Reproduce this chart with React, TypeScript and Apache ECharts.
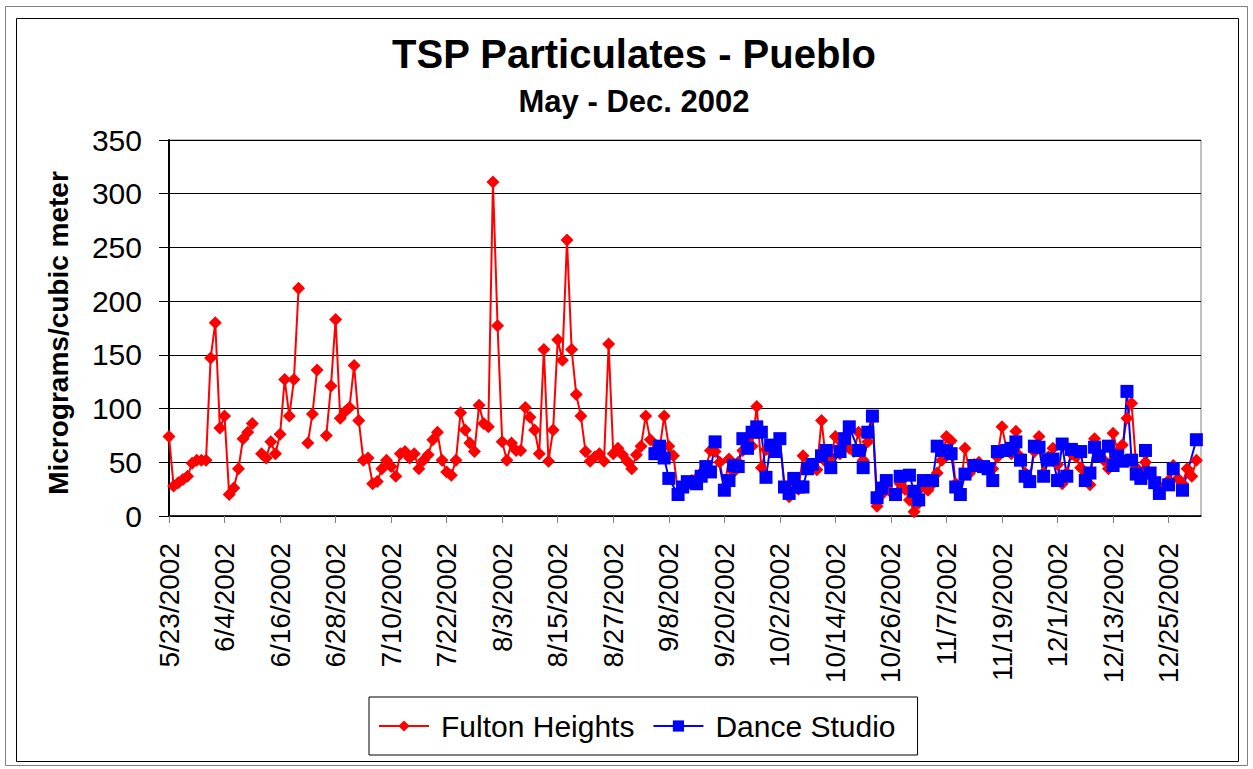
import React, { useEffect, useRef } from 'react';
import * as echarts from 'echarts';

const FONT = '"Liberation Sans", Arial, sans-serif';
const NARROW = '"Liberation Sans Narrow", "Arial Narrow", "Liberation Sans", Arial, sans-serif';

const chartTitle = 'TSP Particulates - Pueblo';
const chartSubtitle = 'May - Dec. 2002';
const yAxisTitle = 'Micrograms/cubic meter';
const seriesNames = ['Fulton Heights', 'Dance Studio'];

// daily categories 5/23/2002 .. 1/1/2003
const firstDay = { year: 2002, month: 5, day: 23 };
const dayCount = 224;
const categories: string[] = [];
for (let i = 0; i < dayCount; i++) {
  const d = new Date(firstDay.year, firstDay.month - 1, firstDay.day + i);
  categories.push(`${d.getMonth() + 1}/${d.getDate()}/${d.getFullYear()}`);
}

const yTicks = { min: 0, max: 350, interval: 50 };

// Fulton Heights, one value per day from 5/23 (null = no sample)
const fultonMay = [74, 28, 31, 34, 37, 49, 52, 52, 52];
const fultonJun = [147, 180, 82, 93, 20, 26, 44, 72, 78, 86, null, 58, 54, 69, 58, 76, 127, 93, 127, 212, null, 68, 95, 136, null, 75, 121, 183, 91, 97];
const fultonJul = [101, 140, 89, 52, 54, 30, 32, 44, 52, 46, 37, 58, 60, 54, 58, 44, 52, 57, 71, 78, 52, 41, 38, 52, 96, 80, 68, 60, 103, 86, 83];
const fultonAug = [311, 177, 69, 52, 68, 61, 61, 101, 92, 80, 58, 155, 51, 80, 164, 145, 257, 155, 113, 93, 60, 51, 55, 58, 51, 160, 58, 63, 57, 51, 44];
const fultonSep = [57, 65, 93, 71, 60, 62, 93, 65, 56, 22, 28, 30, 33, 35, 40, 45, 61, 60, 50, 27, 53, 41, 50, 61, 72, 65, 102, 45, 62, 60];
const fultonOct = [62, 70, 28, 18, 30, 25, 56, 45, 48, 43, 89, 50, 55, 74, 58, 70, 63, 60, 78, 52, 69, 92, 9, 20, 28, 22, 20, 30, 25, 15, 4];
const fultonNov = [12, 28, 24, 30, 40, 52, 74, 70, 30, 22, 63, 40, 48, 50, 45, 46, 44, 55, 83, 62, 58, 79, 55, 40, 35, 60, 74, 40, 55, 63];
const fultonDec = [48, 30, 40, 58, 55, 45, 38, 29, 72, 58, 52, 44, 77, 60, 66, 91, 105, 45, 40, 50, 38, 32, 25, 28, 33, 47, 35, 30, 44, 37, 52];

// Dance Studio, one value per day (null = no sample); starts in September
const danceMayToAug: (number | null)[] = new Array(101).fill(null);
const danceSep = [null, null, null, null, 58, 65, 54, 35, null, 20, 27, 32, 31, 30, 37, 46, 41, 69, null, 24, 33, 47, 46, 72, 63, 78, 83, 78, 36, 66];
const danceOct = [60, 72, 27, 21, 35, 27, 27, 44, 48, null, 56, 61, 45, null, 60, 72, 83, null, 61, 45, 78, 93, 17, 26, 33, null, 20, 37, null, 38, 23];
const danceNov = [15, 33, null, 33, 65, 61, 61, 58, 27, 20, 39, null, 47, null, 46, 44, 33, 60, null, 61, 63, 69, 52, 37, 32, 65, 64, 37, 52, 53];
const danceDec = [33, 67, 37, 62, null, 60, 33, 40, 64, 56, null, 65, 47, 56, 51, 116, 52, 39, 35, 61, 40, 31, 21, null, 29, 44, null, 24, null, null, 71];

const fultonValues = [...fultonMay, ...fultonJun, ...fultonJul, ...fultonAug, ...fultonSep, ...fultonOct, ...fultonNov, ...fultonDec];
const danceValues = [...danceMayToAug, ...danceSep, ...danceOct, ...danceNov, ...danceDec];

export default function App() {
  const ref = useRef<HTMLDivElement>(null);
  useEffect(() => {
    document.body.style.margin = '0';
    const chart = echarts.init(ref.current!, null, { renderer: 'svg' });
    chart.setOption({
      animation: false,
      backgroundColor: '#ffffff',
      graphic: [
        { type: 'rect', shape: { x: 5.5, y: 6.5, width: 1242, height: 759 }, style: { fill: 'none', stroke: '#808080', lineWidth: 1 }, silent: true },
        { type: 'rect', shape: { x: 16.5, y: 18.5, width: 1222, height: 743 }, style: { fill: 'none', stroke: '#000000', lineWidth: 1 }, silent: true },
        { type: 'text', x: 634, y: 54, style: { text: chartTitle, fontSize: 40, fontWeight: 'bold', fontFamily: FONT, fill: '#000', textAlign: 'center', textVerticalAlign: 'middle' } },
        { type: 'text', x: 634, y: 101, style: { text: chartSubtitle, fontSize: 31, fontWeight: 'bold', fontFamily: FONT, fill: '#000', textAlign: 'center', textVerticalAlign: 'middle' } },
        { type: 'text', x: 58, y: 333, rotation: Math.PI / 2, style: { text: yAxisTitle, fontSize: 28, fontWeight: 'bold', fontFamily: FONT, fill: '#000', textAlign: 'center', textVerticalAlign: 'middle' } },
      ],
      grid: { left: 169, top: 140, width: 1032, height: 376, show: true, borderColor: '#808080', borderWidth: 1, containLabel: false },
      legend: {
        left: 369,
        top: 697,
        orient: 'horizontal',
        borderColor: '#000',
        borderWidth: 1,
        padding: [14, 22, 14, 9],
        itemWidth: 50,
        itemHeight: 14,
        itemGap: 18,
        textStyle: { fontSize: 30, color: '#000', fontFamily: FONT, padding: [0, 0, 0, 7] },
        data: seriesNames,
      },
      xAxis: {
        type: 'category',
        data: categories,
        boundaryGap: false,
        axisLine: { lineStyle: { color: '#000', width: 1.5 } },
        axisTick: { show: true, interval: 11, length: 7, lineStyle: { color: '#808080', width: 1 } },
        axisLabel: { interval: 11, rotate: 90, margin: 27, fontSize: 28, fontFamily: NARROW, color: '#000' },
        splitLine: { show: false },
      },
      yAxis: {
        type: 'value',
        min: yTicks.min,
        max: yTicks.max,
        interval: yTicks.interval,
        axisLine: { show: true, lineStyle: { color: '#000', width: 2 } },
        axisTick: { show: true, length: 10, lineStyle: { color: '#000', width: 1 } },
        axisLabel: { margin: 27, fontSize: 30, fontFamily: FONT, color: '#000' },
        splitLine: { show: true, lineStyle: { color: '#000', width: 1 } },
      },
      series: [
        {
          name: seriesNames[0],
          type: 'line',
          data: fultonValues,
          connectNulls: false,
          symbol: 'diamond',
          symbolSize: 13,
          showAllSymbol: true,
          itemStyle: { color: '#ff0000' },
          lineStyle: { color: '#ff0000', width: 2 },
        },
        {
          name: seriesNames[1],
          type: 'line',
          data: danceValues,
          connectNulls: true,
          symbol: 'rect',
          symbolSize: 13,
          showAllSymbol: true,
          itemStyle: { color: '#0000ff' },
          lineStyle: { color: '#0000ff', width: 2 },
        },
      ],
    });
    return () => chart.dispose();
  }, []);
  return <div ref={ref} style={{ position: 'absolute', left: 0, top: 0, width: 1253, height: 769, background: '#fff' }} />;
}
